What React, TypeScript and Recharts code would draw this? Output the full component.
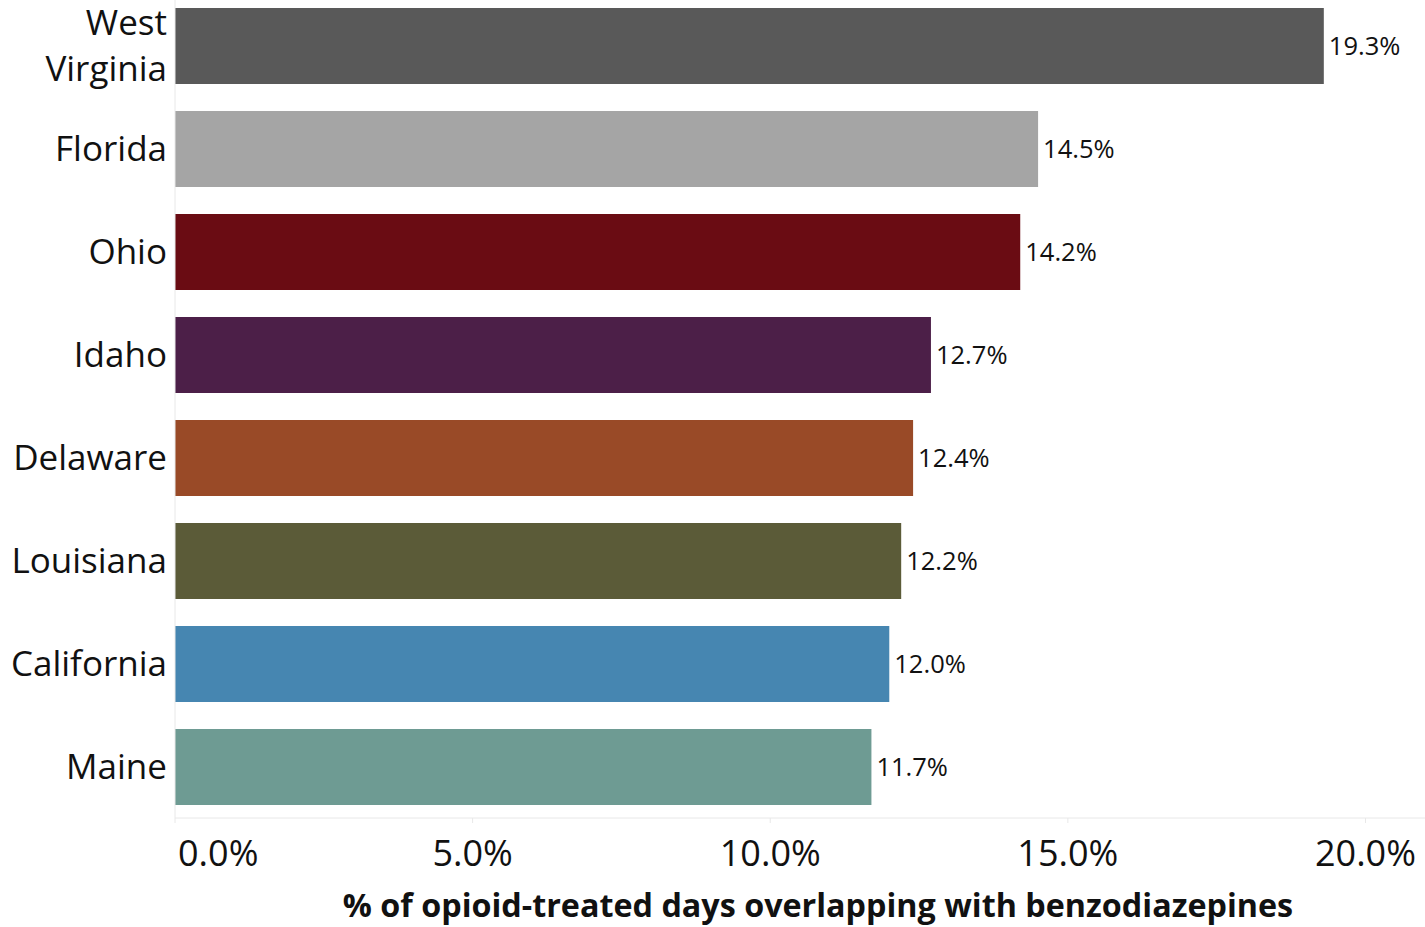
import { Bar, BarChart, Cell, LabelList, XAxis, YAxis } from "recharts";

const states = ["West Virginia", "Florida", "Ohio", "Idaho", "Delaware", "Louisiana", "California", "Maine"];
const overlapPct = [19.3, 14.5, 14.2, 12.7, 12.4, 12.2, 12.0, 11.7];
const barColors = ["#595959", "#a5a5a5", "#6a0c13", "#4c1f48", "#994a27", "#5b5b38", "#4686b1", "#6e9b93"];
const xTicks = [0, 5, 10, 15, 20];

const data = states.map((name, i) => ({ name, value: overlapPct[i] }));

const FONT = "'Open Sans', 'Noto Sans', sans-serif";
const GRID = "#e8e8e8";

function StateTick({ x, y, payload }: any) {
  const words = payload.value === "West Virginia" ? ["West", "Virginia"] : [payload.value];
  const lineGap = 46;
  const start = -((words.length - 1) * lineGap) / 2;
  return (
    <text x={x} y={y} textAnchor="end" fontFamily={FONT} fontSize={35} fill="#111">
      {words.map((w, i) => (
        <tspan key={w} x={x} y={y + start + i * lineGap} dy="0.36em">
          {w}
        </tspan>
      ))}
    </text>
  );
}

function PctTick({ x, y, payload }: any) {
  // first label is pushed inside the plot so it isn't clipped at the left edge
  const first = payload.value === 0;
  return (
    <text
      x={first ? x + 3 : x}
      y={y + 41}
      textAnchor={first ? "start" : "middle"}
      fontFamily={FONT}
      fontSize={36}
      fill="#111"
    >
      {`${payload.value.toFixed(1)}%`}
    </text>
  );
}

export default function App() {
  return (
    <div style={{ position: "absolute", left: 0, top: -6, background: "#fff" }}>
      <BarChart
        width={1425}
        height={933}
        data={data}
        layout="vertical"
        margin={{ top: 0, right: 0, bottom: 0, left: 0 }}
        barCategoryGap={27}
      >
        <XAxis
          type="number"
          domain={[0, 21]}
          ticks={xTicks}
          height={109}
          stroke={GRID}
          tickSize={5}
          tick={<PctTick />}
          label={{
            content: () => (
              <text x={818} y={923} textAnchor="middle" fontFamily={FONT} fontSize={32.3} fontWeight={700} fill="#111">
                % of opioid-treated days overlapping with benzodiazepines
              </text>
            ),
          }}
        />
        <YAxis
          type="category"
          dataKey="name"
          width={175}
          stroke={GRID}
          tickLine={false}
          tick={<StateTick />}
          interval={0}
        />
        <Bar dataKey="value" barSize={76} isAnimationActive={false}>
          {data.map((d, i) => (
            <Cell key={d.name} fill={barColors[i]} />
          ))}
          <LabelList
            dataKey="value"
            position="right"
            offset={5}
            formatter={(v: any) => `${Number(v).toFixed(1)}%`}
            style={{ fontFamily: FONT, fontSize: 25.5, fill: "#111" }}
          />
        </Bar>
      </BarChart>
    </div>
  );
}
